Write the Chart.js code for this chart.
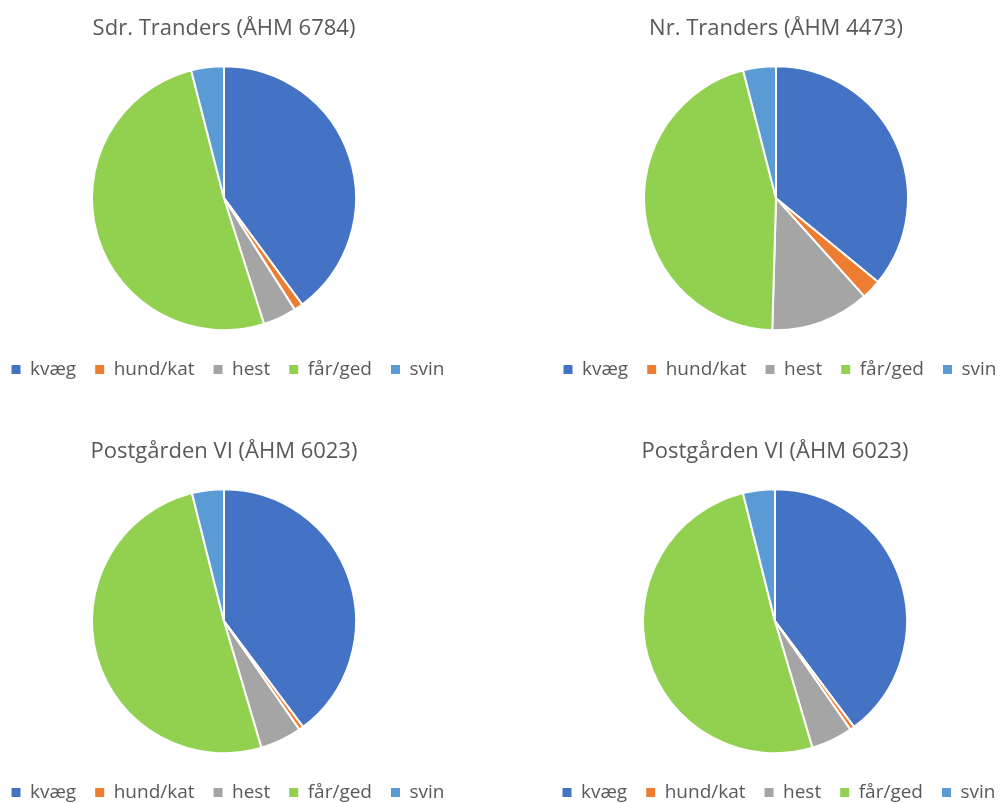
<!DOCTYPE html>
<html>
<head>
<meta charset="utf-8">
<script src="https://cdn.jsdelivr.net/npm/chart.js@4"></script>
<style>
  html, body { margin: 0; padding: 0; background: #ffffff; }
  body { width: 1000px; height: 803px; position: relative; overflow: hidden; }
  .cell { position: absolute; width: 500px; height: 400px; }
  canvas { display: block; }
</style>
</head>
<body>
<div class="cell" style="left:-26px;top:0px;"><canvas id="c1" width="500" height="400"></canvas></div>
<div class="cell" style="left:526px;top:0px;"><canvas id="c2" width="500" height="400"></canvas></div>
<div class="cell" style="left:-26px;top:423px;"><canvas id="c3" width="500" height="400"></canvas></div>
<div class="cell" style="left:525px;top:423px;"><canvas id="c4" width="500" height="400"></canvas></div>
<script>
const categories = ['kvæg', 'hund/kat', 'hest', 'får/ged', 'svin'];
const colors = ['#4472C4', '#ED7D31', '#A5A5A5', '#92D050', '#5B9BD5'];

const titles = [
  'Sdr. Tranders (ÅHM 6784)',
  'Nr. Tranders (ÅHM 4473)',
  'Postgården VI (ÅHM 6023)',
  'Postgården VI (ÅHM 6023)'
];

// percentage shares
const sdrTranders   = [39.9, 1.1, 4.1, 50.9, 4.0];
const nrTranders    = [35.9, 2.4, 12.1, 45.5, 4.0];
const postgarden1   = [39.8, 0.55, 5.1, 50.7, 3.9];
const postgarden2   = [39.8, 0.55, 5.1, 50.7, 3.9];

const seriesList = [sdrTranders, nrTranders, postgarden1, postgarden2];
const FONT = "'Open Sans', 'Noto Sans', sans-serif";
const TEXT = '#595959';

// nudge the legend a few pixels right, as in the original layout
const legendShift = {
  id: 'legendShift',
  afterLayout(chart) {
    if (chart.legend) {
      chart.legend.left += 4;
      chart.legend.right += 4;
    }
  }
};

seriesList.forEach((values, i) => {
  new Chart(document.getElementById('c' + (i + 1)), {
    type: 'pie',
    data: {
      labels: categories,
      datasets: [{
        data: values,
        backgroundColor: colors,
        borderColor: '#ffffff',
        borderWidth: 2,
        radius: 132
      }]
    },
    plugins: [legendShift],
    options: {
      responsive: false,
      animation: false,
      layout: { padding: { top: 0, bottom: 11, left: 0, right: 0 } },
      plugins: {
        tooltip: { enabled: false },
        title: {
          display: true,
          text: titles[i],
          color: TEXT,
          font: { family: FONT, size: 22, weight: 'normal' },
          padding: { top: 16, bottom: 13 }
        },
        legend: {
          position: 'bottom',
          labels: {
            color: TEXT,
            font: { family: FONT, size: 19 },
            boxWidth: 9,
            boxHeight: 9,
            padding: 19,
            generateLabels(chart) {
              return Chart.overrides.pie.plugins.legend.labels.generateLabels(chart)
                .map(item => Object.assign({}, item, { lineWidth: 0, strokeStyle: item.fillStyle }));
            }
          }
        }
      }
    }
  });
});
</script>
</body>
</html>
